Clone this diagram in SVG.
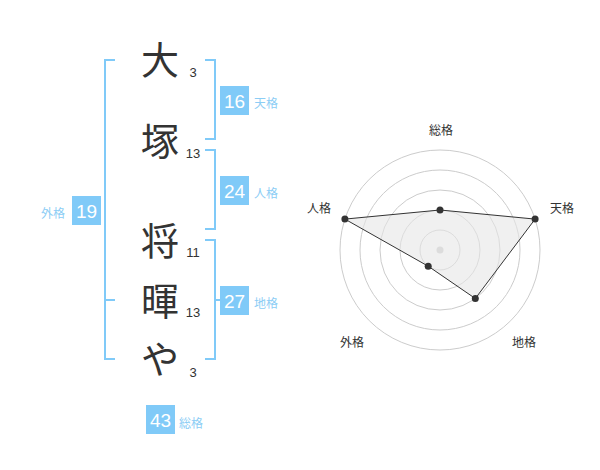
<svg xmlns="http://www.w3.org/2000/svg" width="600" height="470" viewBox="0 0 600 470">
<style>
.ch{font-family:"Noto Sans CJK JP","Noto Sans CJK SC",sans-serif;font-size:38px;fill:#333;text-anchor:middle}
.sub{font-family:"Liberation Sans",Arial,sans-serif;font-size:13px;fill:#333;text-anchor:middle}
.br{fill:none;stroke:#80caf8;stroke-width:2}
.box{fill:#80caf8}
.num{font-family:"Liberation Sans",Arial,sans-serif;font-size:19px;fill:#fff;text-anchor:middle}
.lab{font-family:"Noto Sans CJK JP","Noto Sans CJK SC",sans-serif;font-size:12px;fill:#8ccdf5}
.rl{font-family:"Noto Sans CJK JP","Noto Sans CJK SC",sans-serif;font-size:12px;fill:#333;text-anchor:middle}
.ring{fill:none;stroke:#cccccc;stroke-width:1}
.dot{fill:#333}
</style>
<rect width="600" height="470" fill="#fff"/>
<g id="name">
<text class="ch" x="160" y="74">大</text>
<text class="ch" x="160" y="155">塚</text>
<text class="ch" x="160" y="255">将</text>
<text class="ch" x="160" y="315">暉</text>
<text class="ch" x="160" y="373">や</text>
<text class="sub" x="193" y="77">3</text>
<text class="sub" x="193" y="158">13</text>
<text class="sub" x="193" y="257">11</text>
<text class="sub" x="193" y="317">13</text>
<text class="sub" x="193" y="377">3</text>
</g>
<g id="connectors">
<path class="br" d="M115,60 H105 V359 H115 M105,300 H115"/>
<path class="br" d="M205,60 H215 V139 H205"/>
<path class="br" d="M205,150 H215 V229 H205"/>
<path class="br" d="M205,240 H215 V359 H205 M215,300 H225"/>
</g>
<g id="tenkaku">
<rect class="box" x="220" y="86" width="29" height="29"/>
<text class="num" x="234.5" y="107.5">16</text>
<text class="lab" x="254" y="108">天格</text>
</g>
<g id="jinkaku">
<rect class="box" x="220" y="176" width="29" height="29"/>
<text class="num" x="234.5" y="197.5">24</text>
<text class="lab" x="254" y="198">人格</text>
</g>
<g id="chikaku">
<rect class="box" x="220" y="286" width="29" height="29"/>
<text class="num" x="234.5" y="307.5">27</text>
<text class="lab" x="254" y="308">地格</text>
</g>
<g id="gaikaku">
<rect class="box" x="72" y="196" width="29" height="29"/>
<text class="num" x="86.5" y="217.5">19</text>
<text class="lab" x="41" y="218">外格</text>
</g>
<g id="soukaku">
<rect class="box" x="146" y="405" width="29" height="29"/>
<text class="num" x="160.5" y="426.5">43</text>
<text class="lab" x="179" y="428">総格</text>
</g>
<g id="radar">
<circle class="ring" cx="440" cy="250" r="20"/>
<circle class="ring" cx="440" cy="250" r="40"/>
<circle class="ring" cx="440" cy="250" r="60"/>
<circle class="ring" cx="440" cy="250" r="80"/>
<circle class="ring" cx="440" cy="250" r="100"/>
<circle cx="440" cy="250" r="3.5" fill="#cccccc"/>
<polygon points="440,210 535.1,219.1 475.3,298.5 428.2,266.2 344.9,219.1" fill="#e6e6e6" fill-opacity="0.6" stroke="#333" stroke-width="1"/>
<circle class="dot" cx="440" cy="210" r="3.5"/>
<circle class="dot" cx="535.1" cy="219.1" r="3.5"/>
<circle class="dot" cx="475.3" cy="298.5" r="3.5"/>
<circle class="dot" cx="428.2" cy="266.2" r="3.5"/>
<circle class="dot" cx="344.9" cy="219.1" r="3.5"/>
<text class="rl" x="441" y="135">総格</text>
<text class="rl" x="562" y="213">天格</text>
<text class="rl" x="524" y="347">地格</text>
<text class="rl" x="352" y="347">外格</text>
<text class="rl" x="319" y="213">人格</text>
</g>
</svg>
